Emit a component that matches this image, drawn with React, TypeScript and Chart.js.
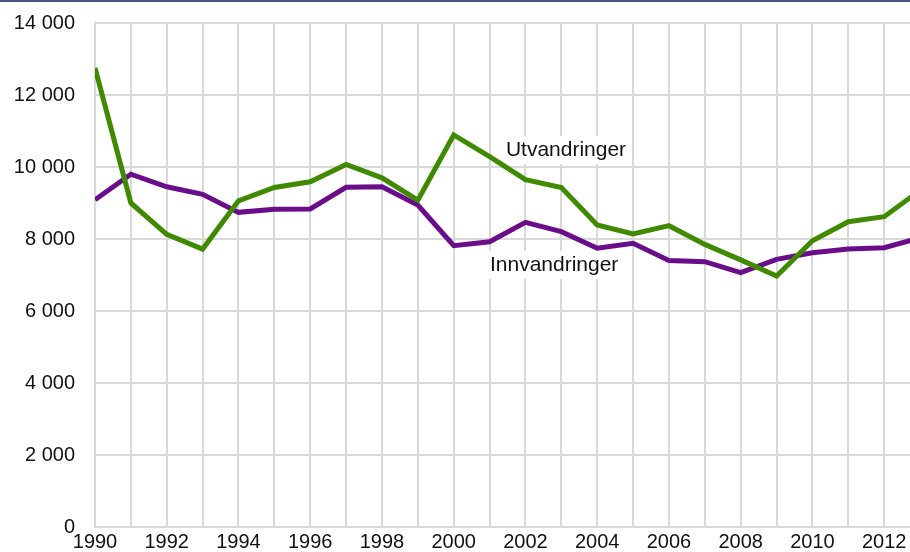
import React, { useEffect, useRef } from "react";
import { Chart, registerables } from "chart.js";

Chart.register(...registerables);

const years = [1990, 1991, 1992, 1993, 1994, 1995, 1996, 1997, 1998, 1999, 2000, 2001, 2002, 2003, 2004, 2005, 2006, 2007, 2008, 2009, 2010, 2011, 2012, 2013];
const utvandringer = [12750, 9000, 8130, 7720, 9060, 9430, 9590, 10070, 9700, 9080, 10890, 10290, 9650, 9430, 8390, 8140, 8370, 7850, 7420, 6970, 7950, 8480, 8620, 9350];
const innvandringer = [9090, 9800, 9450, 9240, 8740, 8825, 8835, 9436, 9450, 8944, 7814, 7925, 8464, 8203, 7742, 7881, 7405, 7370, 7064, 7436, 7620, 7723, 7759, 8030];
const yTicks = [0, 2000, 4000, 6000, 8000, 10000, 12000, 14000];
const seriesLabels = ["Utvandringer", "Innvandringer"];
const labelAnchors = [
  { x: 2003.13, y: 10470 },
  { x: 2002.8, y: 7280 },
];

const FONT = "'Liberation Sans', Arial, sans-serif";

const fmt = (v: number) => {
  const s = Math.round(v).toString();
  return s.replace(/\B(?=(\d{3})+(?!\d))/g, " ");
};

export default function App() {
  const ref = useRef<HTMLCanvasElement | null>(null);
  useEffect(() => {
    if (!ref.current) return;
    const bgPlugin = {
      id: "bg",
      beforeDraw(chart: any) {
        const ctx = chart.ctx;
        ctx.save();
        ctx.fillStyle = "#ffffff";
        ctx.fillRect(0, 0, chart.width, chart.height);
        ctx.fillStyle = "#44587f";
        ctx.fillRect(0, 0, chart.width, 2);
        ctx.restore();
      },
    };
    const labelPlugin = {
      id: "seriesLabels",
      beforeDatasetsDraw(chart: any) {
        const ctx = chart.ctx;
        const xs = chart.scales.x;
        const ys = chart.scales.y;
        ctx.save();
        ctx.font = `21px ${FONT}`;
        ctx.textAlign = "center";
        ctx.textBaseline = "middle";
        seriesLabels.forEach((t, i) => {
          const px = xs.getPixelForValue(labelAnchors[i].x);
          const py = ys.getPixelForValue(labelAnchors[i].y);
          const w = ctx.measureText(t).width;
          ctx.fillStyle = "#ffffff";
          ctx.fillRect(px - w / 2 - 3, py - 14, w + 6, 28);
          ctx.fillStyle = "#111111";
          ctx.fillText(t, px, py);
        });
        ctx.restore();
      },
    };
    const chart = new Chart(ref.current, {
      type: "line",
      data: {
        datasets: [
          {
            label: seriesLabels[0],
            data: years.map((y, i) => ({ x: y, y: utvandringer[i] })),
            borderColor: "#3f8a00",
            borderWidth: 5,
            pointRadius: 0,
            tension: 0,
            fill: false,
          },
          {
            label: seriesLabels[1],
            data: years.map((y, i) => ({ x: y, y: innvandringer[i] })),
            borderColor: "#6a0d8a",
            borderWidth: 5,
            pointRadius: 0,
            tension: 0,
            fill: false,
          },
        ],
      },
      options: {
        animation: false,
        responsive: false,
        devicePixelRatio: 1,
        layout: { padding: { top: 23, right: 0, left: 0, bottom: 0 } },
        plugins: { legend: { display: false }, tooltip: { enabled: false } },
        scales: {
          x: {
            type: "linear",
            min: 1990,
            max: 2012.72,
            afterBuildTicks(scale: any) {
              const t = [];
              for (let y = 1990; y <= 2012; y++) t.push({ value: y });
              scale.ticks = t;
            },
            afterFit(scale: any) {
              scale.height = 25;
            },
            grid: { color: "#d9d9d9", lineWidth: 2, drawTicks: false },
            border: { color: "#d9d9d9", width: 2 },
            ticks: {
              padding: 3,
              autoSkip: false,
              maxRotation: 0,
              color: "#111111",
              font: { family: FONT, size: 20 },
              callback: (v: any) => (Number(v) % 2 === 0 ? String(v) : ""),
            },
          },
          y: {
            min: 0,
            max: 14000,
            afterBuildTicks(scale: any) {
              scale.ticks = yTicks.map((v) => ({ value: v }));
            },
            afterFit(scale: any) {
              scale.width = 95;
            },
            grid: {
              color: "#d9d9d9",
              lineWidth: 2,
              drawTicks: true,
              tickLength: 17,
              tickColor: "rgba(0,0,0,0)",
            },
            border: { color: "#d9d9d9", width: 2 },
            ticks: {
              padding: 3,
              color: "#111111",
              font: { family: FONT, size: 20 },
              callback: (v: any) => fmt(Number(v)),
            },
          },
        },
      },
      plugins: [bgPlugin, labelPlugin],
    } as any);
    return () => chart.destroy();
  }, []);
  return (
    <div style={{ position: "fixed", left: 0, top: 0, width: 910, height: 552 }}>
      <canvas ref={ref} width={910} height={552} style={{ width: 910, height: 552 }} />
    </div>
  );
}
